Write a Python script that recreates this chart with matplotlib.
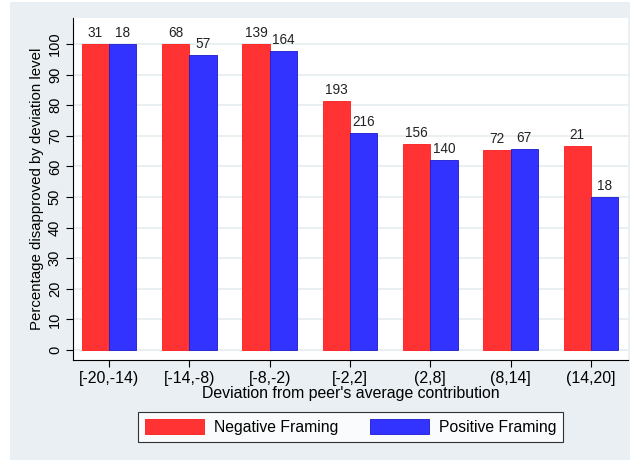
import matplotlib
matplotlib.use("Agg")
import matplotlib.pyplot as plt
import numpy as np
from matplotlib.patches import Rectangle

plt.rcParams['font.family'] = ['Liberation Sans', 'DejaVu Sans']

categories = ["[-20,-14)", "[-14,-8)", "[-8,-2)", "[-2,2]", "(2,8]", "(8,14]", "(14,20]"]
negative_pct = [100, 100, 100, 81.3, 67.3, 65.3, 66.7]
positive_pct = [100, 96.5, 97.6, 70.8, 62.1, 65.7, 50.0]
negative_n = [31, 68, 139, 193, 156, 72, 21]
positive_n = [18, 57, 164, 216, 140, 67, 18]

W, H = 630, 461
fig = plt.figure(figsize=(W / 100, H / 100), dpi=100)
fig.patch.set_facecolor("white")
bg = "#e9eff2"
fig.add_artist(Rectangle((10 / W, 1 / H), 620 / W, 458 / H, transform=fig.transFigure,
                         facecolor=bg, edgecolor="none", zorder=-10))

ax = fig.add_axes([73 / W, (H - 360) / H, (628 - 73) / W, (360 - 18) / H])
ax.set_facecolor("white")

x = np.arange(len(categories))
bw = 0.34
red = "#ff3333"
blue = "#3333ff"
b1 = ax.bar(x - bw / 2, negative_pct, bw, color=red, edgecolor="#ff1a1a", linewidth=0.6, zorder=3,
            label="Negative Framing")
b2 = ax.bar(x + bw / 2, positive_pct, bw, color=blue, edgecolor="#1a1acc", linewidth=0.6, zorder=3,
            label="Positive Framing")

for xi, v, n in zip(x - bw / 2, negative_pct, negative_n):
    ax.text(xi, v + 2.3, str(n), ha="center", va="baseline", fontsize=9.8, color="#222222")
for xi, v, n in zip(x + bw / 2, positive_pct, positive_n):
    ax.text(xi, v + 2.3, str(n), ha="center", va="baseline", fontsize=9.8, color="#222222")

ax.set_xlim(-0.45, 6.4625)
ax.set_ylim(-3.27, 108.5)
ax.set_yticks(np.arange(0, 101, 10))
ax.set_xticks(x)
ax.set_xticklabels(categories, fontsize=11.4)
for lab in ax.get_yticklabels():
    lab.set_rotation(90)
    lab.set_va("center")
ax.tick_params(axis="y", labelsize=10.5, length=5, width=0.8, pad=3)
ax.tick_params(axis="x", length=5, width=0.8, pad=3)
ax.yaxis.grid(True, color="#e6edf0", linewidth=1.2, zorder=0)
ax.set_axisbelow(True)
for s in ["top", "right"]:
    ax.spines[s].set_visible(False)
for s in ["left", "bottom"]:
    ax.spines[s].set_linewidth(0.8)
    ax.spines[s].set_color("black")

ax.set_xlabel("Deviation from peer's average contribution", fontsize=11.4, labelpad=0)
ax.set_ylabel("Percentage disapproved by deviation level", fontsize=10.8, labelpad=3)

leg = fig.legend(handles=[b1, b2], loc="center", bbox_to_anchor=(350.5 / W, (H - 427) / H),
                 ncol=2, fontsize=11.3, frameon=True, fancybox=False, edgecolor="black",
                 handlelength=3.8, handleheight=1.1, handletextpad=0.6, columnspacing=2.0,
                 borderpad=0.45)
leg.get_frame().set_linewidth(0.8)

fig.savefig("out.png", dpi=100, facecolor="white")
